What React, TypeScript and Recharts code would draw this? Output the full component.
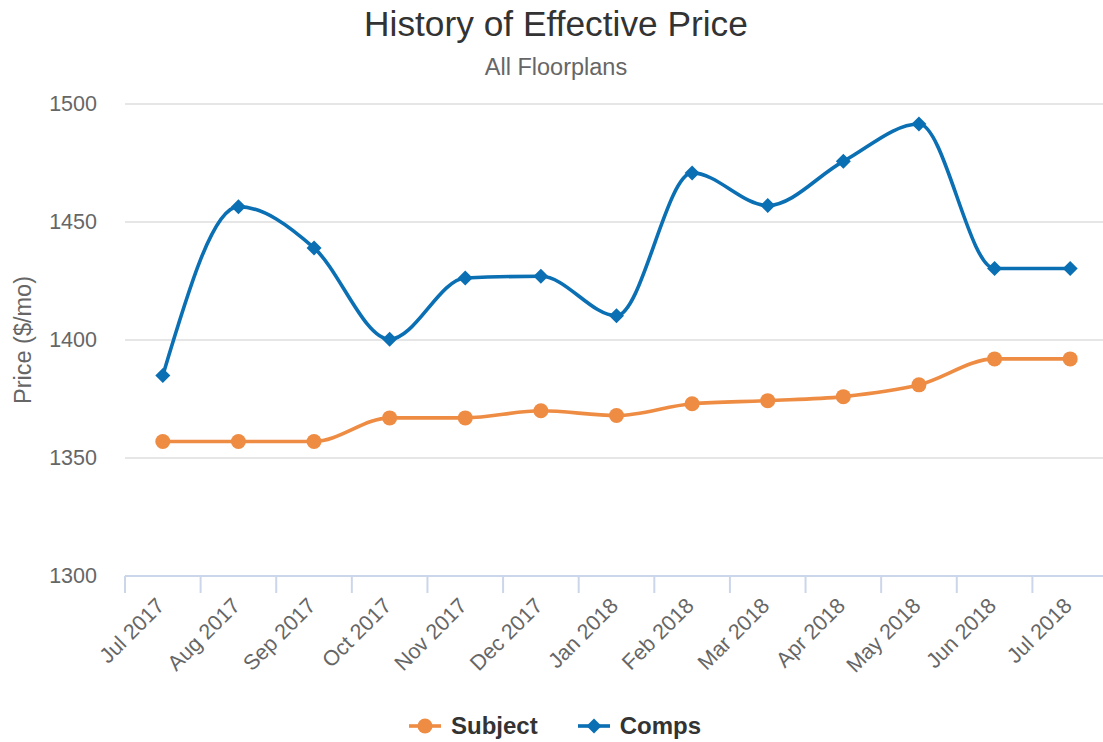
import React from 'react';
import { LineChart, Line, XAxis, YAxis, CartesianGrid, Legend } from 'recharts';

const categories = ['Jul 2017', 'Aug 2017', 'Sep 2017', 'Oct 2017', 'Nov 2017', 'Dec 2017', 'Jan 2018', 'Feb 2018', 'Mar 2018', 'Apr 2018', 'May 2018', 'Jun 2018', 'Jul 2018'];
const subjectValues = [1357, 1357, 1357, 1367, 1367, 1370, 1368, 1373, 1374.3, 1376, 1381, 1392, 1392];
const compsValues = [1385, 1456.5, 1439, 1400.3, 1426.3, 1427, 1410.3, 1470.8, 1457, 1475.7, 1491.5, 1430.3, 1430.3];
const yTicks = [1300, 1350, 1400, 1450, 1500];

const W = 1103;
const H = 742;
const PLOT_LEFT = 125;
const PLOT_RIGHT = 1108;
const PLOT_TOP = 104;
const PLOT_BOTTOM = 576;
const HALF_BAND = (PLOT_RIGHT - PLOT_LEFT) / categories.length / 2;

const ORANGE = '#ee8c43';
const BLUE = '#0a6fb3';
const FONT = '"Liberation Sans", Arial, Helvetica, sans-serif';

const data = categories.map((c, i) => ({ month: c, subject: subjectValues[i], comps: compsValues[i] }));

const XTick = (props: any) => {
  const { x, y, payload, index } = props;
  const last = index === categories.length - 1;
  const ax = x + 3;
  const ay = y + 31;
  return (
    <g>
      <line x1={x - HALF_BAND} x2={x - HALF_BAND} y1={y} y2={y + 17} stroke="#ccd6eb" strokeWidth={2} />
      {last && <line x1={x + HALF_BAND} x2={x + HALF_BAND} y1={y} y2={y + 17} stroke="#ccd6eb" strokeWidth={2} />}
      <text
        x={ax}
        y={ay}
        textAnchor="end"
        fill="#666666"
        fontSize={21.5}
        fontFamily={FONT}
        transform={`rotate(-45, ${ax}, ${ay})`}
      >
        {payload.value}
      </text>
    </g>
  );
};

const YTick = (props: any) => {
  const { x, y, payload } = props;
  return (
    <text x={x} y={y + 7} textAnchor="end" fill="#666666" fontSize={21.5} fontFamily={FONT}>
      {payload.value}
    </text>
  );
};

const CircleDot = (props: any) => {
  const { cx, cy } = props;
  if (cx == null || cy == null) return null;
  return <circle cx={cx} cy={cy} r={7.5} fill={ORANGE} />;
};

const DiamondDot = (props: any) => {
  const { cx, cy } = props;
  if (cx == null || cy == null) return null;
  const r = 7.5;
  return <polygon points={`${cx},${cy - r} ${cx + r},${cy} ${cx},${cy + r} ${cx - r},${cy}`} fill={BLUE} />;
};

const LegendContent = () => {
  const items = [
    { name: 'Subject', color: ORANGE, shape: 'circle' },
    { name: 'Comps', color: BLUE, shape: 'diamond' },
  ];
  return (
    <div style={{ display: 'flex', justifyContent: 'center', paddingLeft: 7, fontFamily: FONT }}>
      {items.map((it, i) => (
        <div key={it.name} style={{ display: 'flex', alignItems: 'center', marginLeft: i === 0 ? 0 : 40 }}>
          <svg width={32} height={18} style={{ marginRight: 10 }}>
            <line x1={0} x2={32} y1={9} y2={9} stroke={it.color} strokeWidth={3.6} />
            {it.shape === 'circle' ? (
              <circle cx={16} cy={9} r={7.5} fill={it.color} />
            ) : (
              <polygon points="16,1.5 23.5,9 16,16.5 8.5,9" fill={it.color} />
            )}
          </svg>
          <span style={{ fontSize: 24, fontWeight: 'bold', color: '#333333', lineHeight: '26px' }}>{it.name}</span>
        </div>
      ))}
    </div>
  );
};

export default function App() {
  return (
    <div style={{ position: 'absolute', left: 0, top: 0, width: W, height: H, background: '#ffffff' }}>
      <LineChart
        width={W}
        height={H}
        data={data}
        margin={{ top: PLOT_TOP, right: W - PLOT_RIGHT, bottom: 0, left: 40 }}
      >
        <CartesianGrid horizontal vertical={false} stroke="#e6e6e6" strokeWidth={2} />
        <XAxis
          dataKey="month"
          interval={0}
          tickLine={false}
          tickSize={0}
          tickMargin={0}
          padding={{ left: HALF_BAND, right: HALF_BAND }}
          axisLine={{ stroke: '#ccd6eb', strokeWidth: 2 }}
          tick={<XTick />}
          height={H - PLOT_BOTTOM}
        />
        <YAxis
          domain={[1300, 1500]}
          ticks={yTicks}
          width={PLOT_LEFT - 40}
          axisLine={false}
          tickLine={false}
          tickSize={0}
          tickMargin={28}
          tick={<YTick />}
          allowDataOverflow
        />
        <Legend
          layout="horizontal"
          verticalAlign="middle"
          align="center"
          content={<LegendContent />}
          wrapperStyle={{ top: 713, left: 0, width: W, height: 26 }}
        />
        <Line
          type="monotone"
          dataKey="subject"
          name="Subject"
          stroke={ORANGE}
          strokeWidth={3.6}
          dot={<CircleDot />}
          activeDot={false}
          isAnimationActive={false}
        />
        <Line
          type="monotone"
          dataKey="comps"
          name="Comps"
          stroke={BLUE}
          strokeWidth={3.6}
          dot={<DiamondDot />}
          activeDot={false}
          isAnimationActive={false}
        />
      </LineChart>
      <svg width={W} height={H} style={{ position: 'absolute', left: 0, top: 0, pointerEvents: 'none' }}>
        <text x={556} y={36} textAnchor="middle" fontSize={35.3} fill="#333333" fontFamily={FONT}>
          History of Effective Price
        </text>
        <text x={556} y={75} textAnchor="middle" fontSize={23.5} fill="#666666" fontFamily={FONT}>
          All Floorplans
        </text>
        <text
          x={31}
          y={340}
          textAnchor="middle"
          fontSize={23.5}
          fill="#666666"
          fontFamily={FONT}
          transform="rotate(-90, 31, 340)"
        >
          Price ($/mo)
        </text>
      </svg>
    </div>
  );
}
